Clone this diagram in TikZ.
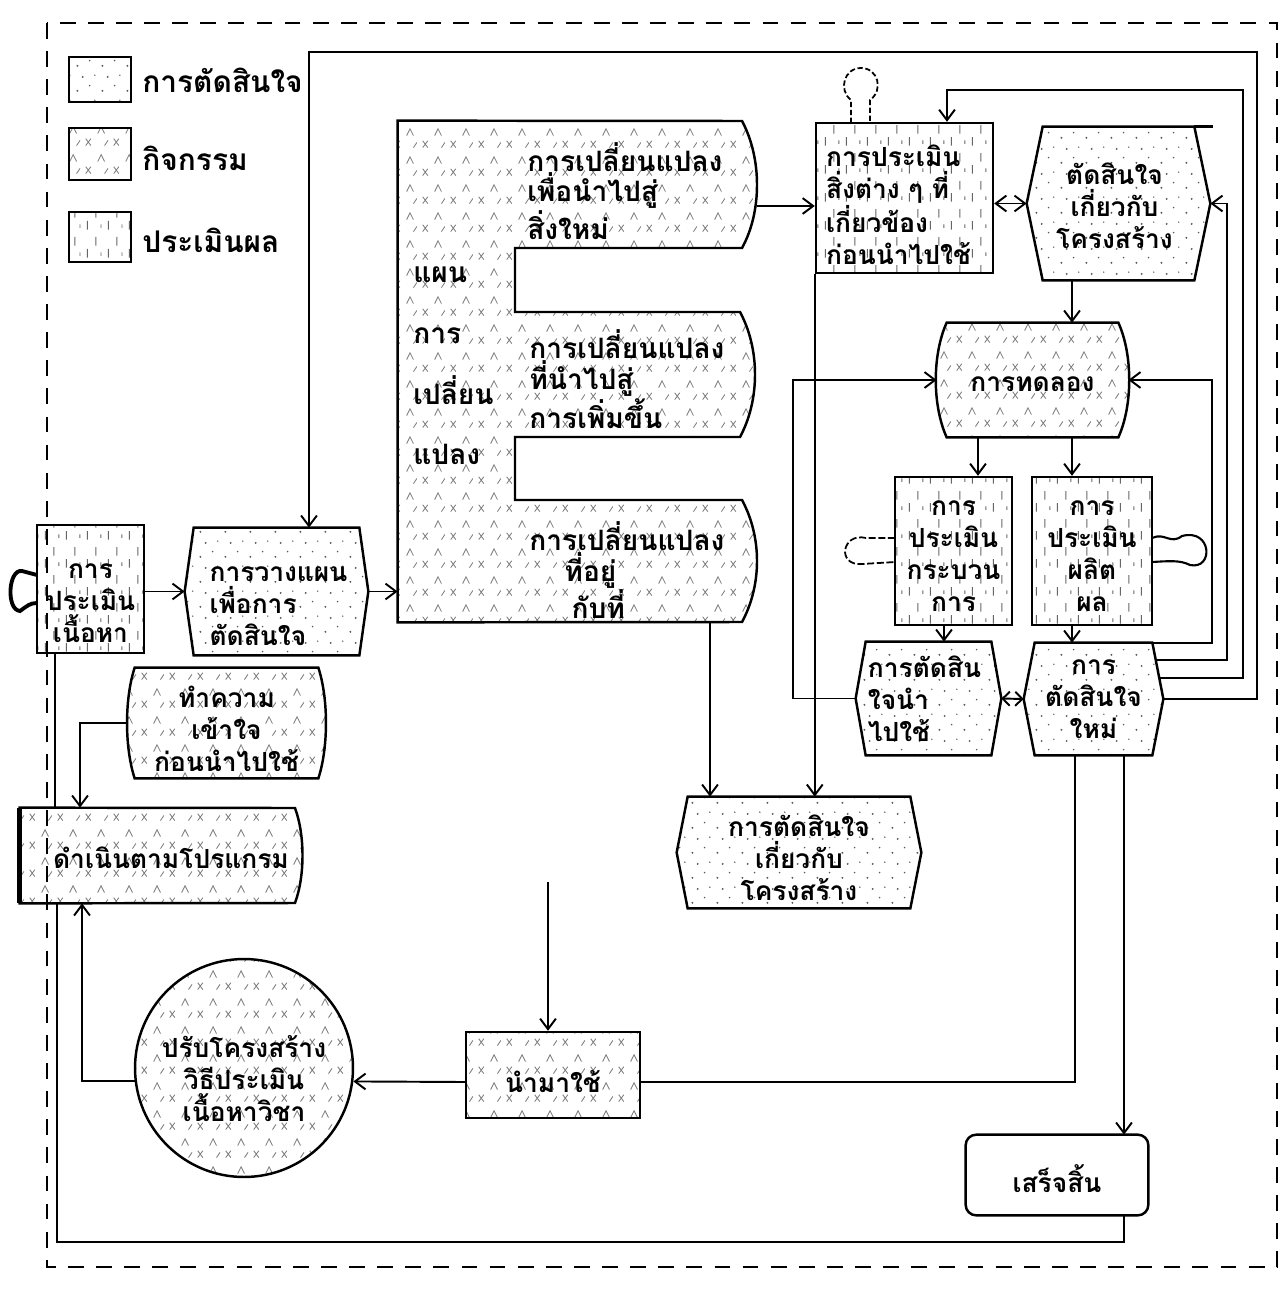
\documentclass[tikz,border=0pt]{standalone}
\usepackage{fontspec}
\newfontfamily\thai[Script=Thai]{Loma}
\usetikzlibrary{arrows.meta,patterns,fit,calc,backgrounds}
\newcommand\thaitxt{\thai\bfseries\fontsize{15pt}{18.2pt}\selectfont}
\newcommand\tabtxt{\thai\bfseries\fontsize{16pt}{16.4pt}\selectfont}
\newcommand\legtxt{\thai\bfseries\fontsize{17pt}{19pt}\selectfont}
\newcommand\colf{\thai\bfseries\fontsize{16pt}{34.5pt}\selectfont}
\pgfdeclarepatternformonly{spdots}{\pgfqpoint{0pt}{0pt}}{\pgfqpoint{14pt}{14pt}}{\pgfqpoint{14pt}{14pt}}{%
  \pgfpathcircle{\pgfqpoint{2pt}{3pt}}{0.6pt}%
  \pgfpathcircle{\pgfqpoint{9pt}{6pt}}{0.5pt}%
  \pgfpathcircle{\pgfqpoint{5pt}{11pt}}{0.6pt}%
  \pgfpathcircle{\pgfqpoint{12pt}{12pt}}{0.45pt}%
  \pgfusepath{fill}}
\pgfdeclarepatternformonly{hatchx}{\pgfqpoint{0pt}{0pt}}{\pgfqpoint{16pt}{16pt}}{\pgfqpoint{16pt}{16pt}}{%
  \pgfsetlinewidth{0.5pt}%
  \pgfpathmoveto{\pgfqpoint{1pt}{2pt}}\pgfpathlineto{\pgfqpoint{4pt}{6pt}}%
  \pgfpathmoveto{\pgfqpoint{4pt}{2pt}}\pgfpathlineto{\pgfqpoint{1pt}{6pt}}%
  \pgfpathmoveto{\pgfqpoint{8pt}{9pt}}\pgfpathlineto{\pgfqpoint{10pt}{13pt}}\pgfpathlineto{\pgfqpoint{12pt}{9pt}}%
  \pgfpathmoveto{\pgfqpoint{12pt}{2pt}}\pgfpathlineto{\pgfqpoint{14pt}{5pt}}%
  \pgfusepath{stroke}}
\pgfdeclarepatternformonly{vdash}{\pgfqpoint{0pt}{0pt}}{\pgfqpoint{12pt}{16pt}}{\pgfqpoint{12pt}{16pt}}{%
  \pgfsetlinewidth{0.55pt}%
  \pgfpathmoveto{\pgfqpoint{2pt}{2pt}}\pgfpathlineto{\pgfqpoint{2pt}{7pt}}%
  \pgfpathmoveto{\pgfqpoint{7pt}{9pt}}\pgfpathlineto{\pgfqpoint{7pt}{14pt}}%
  \pgfpathmoveto{\pgfqpoint{10pt}{3pt}}\pgfpathlineto{\pgfqpoint{10pt}{5pt}}%
  \pgfusepath{stroke}}
\newcommand\hexshape[3]{\draw[#3] ($(#1.north west)+(#2,0)$) -- ($(#1.north east)+(-#2,0)$) -- (#1.east) -- ($(#1.south east)+(-#2,0)$) -- ($(#1.south west)+(#2,0)$) -- (#1.west) -- cycle;}
\newcommand\barrelshape[3]{\draw[#3] ($(#1.north west)+(#2,0)$) -- ($(#1.north east)+(-#2,0)$) .. controls ($(#1.north east)!0.28!(#1.south east)+(#2*0.45,0)$) and ($(#1.north east)!0.72!(#1.south east)+(#2*0.45,0)$) .. ($(#1.south east)+(-#2,0)$) -- ($(#1.south west)+(#2,0)$) .. controls ($(#1.north west)!0.72!(#1.south west)+(-#2*0.45,0)$) and ($(#1.north west)!0.28!(#1.south west)+(-#2*0.45,0)$) .. ($(#1.north west)+(#2,0)$) -- cycle;}
\begin{document}
\begin{tikzpicture}[x=0.02cm,y=-0.02cm,
  ln/.style={line width=1.1pt},
  arr/.style={line width=1.1pt,-{Straight Barb[length=6pt,width=9pt]}},
  darr/.style={line width=1.1pt,{Straight Barb[length=6pt,width=9pt]}-{Straight Barb[length=6pt,width=9pt]}},
  sdarr/.style={line width=1.1pt,{Straight Barb[length=4pt,width=8pt]}-{Straight Barb[length=4pt,width=8pt]}},
  outl/.style={draw,line width=1.4pt},
  decfill/.style={pattern=spdots,pattern color=black!65},
  actfill/.style={pattern=hatchx,pattern color=black!50},
  evafill/.style={pattern=vdash,pattern color=black!60},
  shp/.style={inner sep=0pt},
  tx/.style={inner sep=0pt,align=center,font=\thaitxt},
  lt/.style={font=\thaitxt,inner sep=0pt,anchor=west,align=left}]
\useasboundingbox (0,0) rectangle (1286,1301);
\begin{scope}[on background layer]
  \fill[white] (0,0) rectangle (1286,1301);
\end{scope}
% outer dashed frame
\draw[line width=1.3pt,dash pattern=on 9pt off 7pt] (47,23) rectangle (1277,1267);

% legend
\node[fit={(69,57)(131,102)},shp,outl,decfill] (lg1) {};
\node[lt,font=\legtxt] (lg1t) at (142,80) {การตัดสินใจ};
\node[fit={(69,128)(131,180)},shp,outl,actfill] (lg2) {};
\node[lt,font=\legtxt] (lg2t) at (142,158) {กิจกรรม};
\node[fit={(69,212)(131,262)},shp,outl,evafill] (lg3) {};
\node[lt,font=\legtxt] (lg3t) at (142,240) {ประเมินผล};

% shape nodes (outlines / anchors)
\node[fit={(398,121)(757,622)},shp] (plan) {};
\node[fit={(37,525)(144,653)},shp,outl,evafill] (eval0) {};
\node[fit={(185,528)(368,655)},shp] (plan2) {};
\node[fit={(128,668)(325,778)},shp] (act1) {};
\node[fit={(20,808)(302,903)},shp] (act2) {};
\node[circle,outl,actfill,minimum size=4.36cm,inner sep=0pt] (circ) at (244,1068) {};
\node[fit={(466,1032)(640,1118)},shp,outl,actfill] (act3) {};
\node[fit={(966,1135)(1148,1215)},shp] (fin) {};
\node[fit={(816,123)(993,273)},shp,outl,evafill] (eval1) {};
\node[fit={(1027,127)(1210,280)},shp] (dec1) {};
\node[fit={(937,323)(1128,437)},shp] (trial) {};
\node[fit={(895,477)(1012,625)},shp,outl,evafill] (eval2) {};
\node[fit={(1032,477)(1152,625)},shp,outl,evafill] (eval3) {};
\node[fit={(856,642)(1001,755)},shp] (dec2) {};
\node[fit={(1024,643)(1163,755)},shp] (dec3) {};
\node[fit={(677,797)(921,908)},shp] (dec4) {};
\coordinate (usein) at (548,882);

% shapes drawn behind the texts
\begin{scope}[on background layer]
  \draw[outl,actfill] (plan.north west) -- (742,121) .. controls (762,158) and (762,212) .. (742,248) -- (515,248) -- (515,312) -- (740,312) .. controls (760,349) and (760,400) .. (740,437) -- (515,437) -- (515,500) -- (742,500) .. controls (762,537) and (762,585) .. (742,622) -- (plan.south west) -- cycle;
  \hexshape{plan2}{9}{outl,decfill}
  \hexshape{dec1}{16}{outl,decfill}
  \hexshape{dec2}{10}{outl,decfill}
  \hexshape{dec3}{11}{outl,decfill}
  \hexshape{dec4}{11}{outl,decfill}
  \barrelshape{act1}{7}{outl,actfill}
  \barrelshape{trial}{10}{outl,actfill}
  \draw[outl,actfill] (act2.north west) -- (295,808) .. controls (305,835) and (305,876) .. (295,903) -- (act2.south west) -- cycle;
  \draw[outl,rounded corners=6pt] (fin.north west) rectangle (fin.south east);
\end{scope}
\draw[line width=3pt] (act2.north west) -- (act2.south west);
\draw[outl] ($(dec1.north east)+(-16,0)$) -- ($(dec1.north east)+(3,0)$);

% texts
\node[lt,font=\colf] (plancol) at (413,366) {แผน\\การ\\เปลี่ยน\\แปลง};
\node[lt,font=\tabtxt] (tab1) at (527,191) {การเปลี่ยนแปลง\\เพื่อนำไปสู่\\สิ่งใหม่};
\node[lt,font=\tabtxt] (tab2) at (529,379) {การเปลี่ยนแปลง\\ที่นำไปสู่\\การเพิ่มขึ้น};
\node[lt,font=\tabtxt] (tab3) at (529,570) {การเปลี่ยนแปลง\\\hspace*{20pt}ที่อยู่\\\hspace*{24pt}กับที่};
\node[tx] (eval0t) at ($(eval0.center)+(0,14)$) {การ\\ประเมิน\\เนื้อหา};
\node[tx,align=left] (plan2t) at ($(plan2.center)+(2,15)$) {การวางแผน\\เพื่อการ\\ตัดสินใจ};
\node[tx] (act1t) at ($(act1.center)+(0,6)$) {ทำความ\\เข้าใจ\\ก่อนนำไปใช้};
\node[tx] (act2t) at ($(act2.center)+(10,2)$) {ดำเนินตามโปรแกรม};
\node[tx] (circt) at ($(circ.center)+(0,11)$) {ปรับโครงสร้าง\\วิธีประเมิน\\เนื้อหาวิชา};
\node[tx] (act3t) at ($(act3.center)+(0,7)$) {นำมาใช้};
\node[tx] (fint) at ($(fin.center)+(0,4)$) {เสร็จสิ้น};
\node[tx,align=left] (eval1t) at ($(eval1.center)+(-6,7)$) {การประเมิน\\สิ่งต่าง ๆ ที่\\เกี่ยวข้อง\\ก่อนนำไปใช้};
\node[tx] (dec1t) at ($(dec1.center)+(-4,2)$) {ตัดสินใจ\\เกี่ยวกับ\\โครงสร้าง};
\node[tx] (trialt) at ($(trial.center)+(0,4)$) {การทดลอง};
\node[tx] (eval2t) at ($(eval2.center)+(0,5)$) {การ\\ประเมิน\\กระบวน\\การ};
\node[tx] (eval3t) at ($(eval3.center)+(0,5)$) {การ\\ประเมิน\\ผลิต\\ผล};
\node[tx,align=left] (dec2t) at ($(dec2.center)+(-4,0)$) {การตัดสิน\\ใจนำ\\ไปใช้};
\node[tx] (dec3t) at ($(dec3.center)+(0,0)$) {การ\\ตัดสินใจ\\ใหม่};
\node[tx] (dec4t) at ($(dec4.center)+(0,5)$) {การตัดสินใจ\\เกี่ยวกับ\\โครงสร้าง};

% decorative loops
\draw[line width=1pt,dash pattern=on 3pt off 1.5pt] (851,123) -- (851,100) .. controls (838,90) and (844,68) .. (861,68) .. controls (878,68) and (884,90) .. (870,100) -- (870,123);
\draw[line width=1pt,dash pattern=on 4pt off 1.5pt] (895,538) -- (866,538) .. controls (842,532) and (836,566) .. (862,564) -- (895,562);
\draw[line width=1.2pt] (1152,538) .. controls (1165,532) and (1170,545) .. (1182,536) .. controls (1212,528) and (1214,570) .. (1190,565) .. controls (1180,560) and (1170,561) .. (1152,562);
\draw[line width=2.2pt] (37,575) -- (22,571) .. controls (8,569) and (6,610) .. (20,611) .. controls (27,606) and (30,603) .. (37,603);

% connectors
\draw[arr] (eval0.east |- plan2.west) -- (plan2.west);
\draw[arr] (plan2.east) -- (plan2.east -| plan.west);
\draw[arr] (plan.east |- 0,206) -- (eval1.west |- 0,206);
\draw[darr] (eval1.east |- dec1.west) -- (dec1.west);
\draw[arr] (dec1.south -| 1072,0) -- (trial.north -| 1072,0);
\draw[arr] (trial.south -| 978,0) -- (eval2.north -| 978,0);
\draw[arr] (trial.south -| 1072,0) -- (eval3.north -| 1072,0);
\draw[arr] (eval2.south -| 944,0) -- (dec2.north -| 944,0);
\draw[arr] (eval3.south -| 1072,0) -- (dec3.north -| 1072,0);
\draw[sdarr] (dec2.east) -- (dec3.west);
\draw[arr] (dec2.west) -- (793,0 |- dec2.west) -- (793,0 |- trial.west) -- (trial.west);
\draw[arr] ($(dec3.north east)+(-11,0)$) -- (1212,0 |- dec3.north) -- (1212,0 |- trial.east) -- (trial.east);
\draw[arr] ($(dec3.east |- 0,660)+(-8,0)$) -- (1227,660) -- (1227,0 |- dec1.east) -- (dec1.east);
\draw[arr] ($(dec3.east |- 0,678)+(-4,0)$) -- (1243,678) -- (1243,90) -- (947,90) -- (eval1.north -| 947,0);
\draw[arr] (dec3.east) -- (1257,0 |- dec3.east) -- (1257,52) -- (309,52) -- (plan2.north -| 309,0);
\draw[arr] (eval1.south west) -- (eval1.south west |- dec4.north);
\draw[arr] (plan.south -| 710,0) -- (dec4.north -| 710,0);
\draw[ln] (dec3.south -| 1075,0) -- (1075,1082) -- (act3.east |- 0,1082);
\draw[arr] (dec3.south -| 1124,0) -- (fin.north -| 1124,0);
\draw[arr] (act3.west |- 0,1082) -- (circ.-7);
\draw[arr] (circ.187) -- (82,0 |- circ.187) -- (act2.south -| 82,0);
\draw[arr] (usein) -- (act3.north -| usein);
\draw[ln] (eval0.south -| 55,0) -- (act2.north -| 55,0);
\draw[ln] (act2.south -| 57,0) -- (57,1242) -- (1124,1242) -- (fin.south -| 1124,0);
\draw[arr] (act1.west) -- (80,0 |- act1.west) -- (act2.north -| 80,0);
\end{tikzpicture}
\end{document}
